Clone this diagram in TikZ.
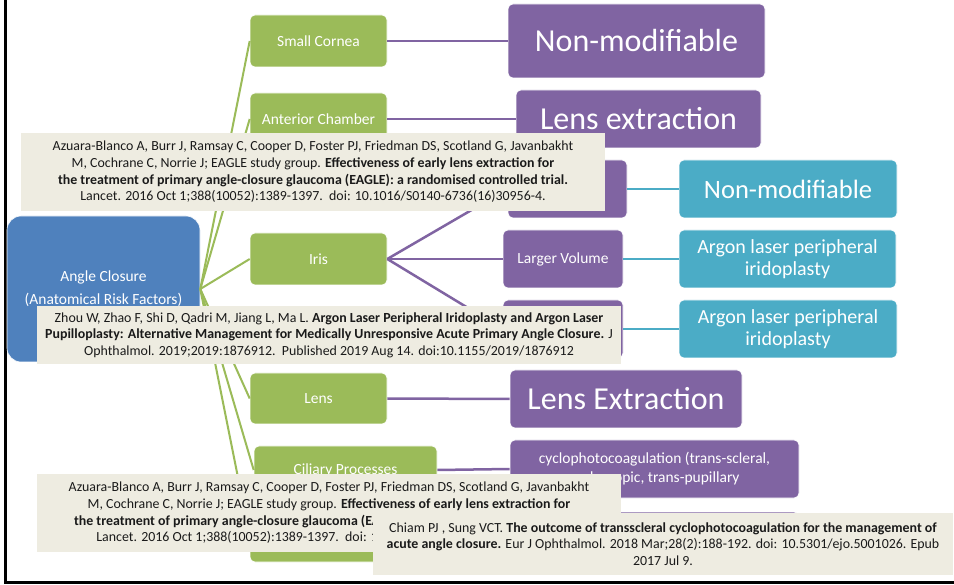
\documentclass[tikz,border=0pt]{standalone}
\usepackage{fontspec}
\setmainfont{Carlito}
\definecolor{blu}{HTML}{4F81BD}
\definecolor{grn}{HTML}{9BBB59}
\definecolor{pur}{HTML}{8064A2}
\definecolor{tea}{HTML}{4BACC6}
\definecolor{beig}{HTML}{EEECE1}
\definecolor{ctext}{HTML}{1A1A1A}
\begin{document}
\begin{tikzpicture}[x=1pt,y=-1pt,
  box/.style={rounded corners=5pt, draw=white, line width=0.6pt, align=center, text=white, inner sep=0pt},
  gbox/.style={box, fill=grn, font=\fontsize{15.5}{18}\selectfont},
  pbox/.style={box, fill=pur, font=\fontsize{15.5}{19}\selectfont},
  pbig/.style={box, fill=pur, font=\fontsize{32}{36}\selectfont},
  tbox/.style={box, fill=tea, font=\fontsize{20}{22}\selectfont},
  gline/.style={draw=grn, line width=2pt},
  pline/.style={draw=pur, line width=2.5pt},
  tline/.style={draw=tea, line width=2.5pt},
  cit/.style={fill=beig, inner sep=0pt, align=center, text=ctext, font=\fontsize{13.9}{16.6}\selectfont}
]
\useasboundingbox (0,0) rectangle (954,585);
\fill[white] (0,0) rectangle (954,585);
% frame
\draw[line width=3pt] (5.5,0) -- (5.5,582) -- (954,582);

% root
\node[box, fill=blu, rounded corners=14pt, minimum width=193, minimum height=146,
  font=\fontsize{15.5}{23}\selectfont] (ac) at (103.5,289) {Angle Closure\\(Anatomical Risk Factors)};

% green level
\node[gbox, minimum width=137, minimum height=52] (sc) at (318.5,41) {Small Cornea};
\node[gbox, minimum width=137, minimum height=52] (anc) at (318.5,119) {Anterior Chamber};
\node[gbox, minimum width=137, minimum height=52] (iris) at (318.5,259) {Iris};
\node[gbox, minimum width=137, minimum height=51] (lens) at (318.5,398.5) {Lens};
\node[gbox, minimum width=183, minimum height=48] (cil) at (345.5,470) {Ciliary Processes};
\node[gbox, minimum width=137, minimum height=52] (g6) at (318.5,536) {};

% purple level
\node[pbig, minimum width=257, minimum height=74] (nm1) at (636.5,41) {Non-modifiable};
\node[pbig, minimum width=245, minimum height=58] (le1) at (638.5,119) {Lens extraction};
\node[pbox, minimum width=119, minimum height=58] (p3) at (567.5,189) {};
\node[pbox, minimum width=120, minimum height=58] (lv) at (563,259) {Larger Volume};
\node[pbox, minimum width=120, minimum height=58] (p4) at (563,329) {};
\node[pbig, minimum width=232, minimum height=58] (le2) at (626,399) {Lens Extraction};
\node[pbox, minimum width=289, minimum height=58] (cyc) at (654.5,469) {cyclophotocoagulation (trans-scleral,\\endoscopic, trans-pupillary};
\node[pbox, minimum width=289, minimum height=58] (p6) at (654.5,541) {};

% teal level
\node[tbox, minimum width=218, minimum height=58, font=\fontsize{26.5}{30}\selectfont] (t1) at (788,189) {Non-modifiable};
\node[tbox, minimum width=217, minimum height=58] (t2) at (787.5,259) {Argon laser peripheral\\iridoplasty};
\node[tbox, minimum width=218, minimum height=58] (t3) at (788,329) {Argon laser peripheral\\iridoplasty};

% connectors
\foreach \t in {sc,anc,iris,lens,cil,g6} \draw[gline] (ac.east) -- (\t.west);
\draw[pline] (sc.east) -- (nm1.west);
\draw[pline] (anc.east) -- (le1.west);
\draw[pline] (iris.east) -- (p3.west);
\draw[pline] (iris.east) -- (lv.west);
\draw[pline] (iris.east) -- (p4.west);
\draw[pline] (lens.east) -- (le2.west);
\draw[pline] (cil.east) -- (cyc.west);
\draw[tline] (p3.east) -- (t1.west);
\draw[tline] (lv.east) -- (t2.west);
\draw[tline] (p4.east) -- (t3.west);

% citations
\node[cit, minimum width=584, minimum height=78] (c1) at (313,172) {Azuara-Blanco A, Burr J, Ramsay C, Cooper D, Foster PJ, Friedman DS, Scotland G, Javanbakht\\M, Cochrane C, Norrie J; EAGLE study group. \textbf{Effectiveness of early lens extraction for}\\\textbf{the treatment of primary angle-closure glaucoma (EAGLE): a randomised controlled trial.}\\Lancet. 2016 Oct 1;388(10052):1389-1397.\ \ doi: 10.1016/S0140-6736(16)30956-4.};
\node[cit, minimum width=584, minimum height=58] (c2) at (329,335) {Zhou W, Zhao F, Shi D, Qadri M, Jiang L, Ma L. \textbf{Argon Laser Peripheral Iridoplasty and Argon Laser}\\\textbf{Pupilloplasty: Alternative Management for Medically Unresponsive Acute Primary Angle Closure.} J\\Ophthalmol. 2019;2019:1876912.\ \ Published 2019 Aug 14. doi:10.1155/2019/1876912};
\node[cit, minimum width=584, minimum height=78] (c3) at (329,513) {Azuara-Blanco A, Burr J, Ramsay C, Cooper D, Foster PJ, Friedman DS, Scotland G, Javanbakht\\M, Cochrane C, Norrie J; EAGLE study group. \textbf{Effectiveness of early lens extraction for}\\\textbf{the treatment of primary angle-closure glaucoma (EAGLE): a randomised controlled trial.}\\Lancet. 2016 Oct 1;388(10052):1389-1397.\ \ doi: 10.1016/S0140-6736(16)30956-4.};
\node[cit, minimum width=580, minimum height=62] (c4) at (663,544) {Chiam PJ , Sung VCT. \textbf{The outcome of transscleral cyclophotocoagulation for the management of}\\\textbf{acute angle closure.} Eur J Ophthalmol. 2018 Mar;28(2):188-192. doi: 10.5301/ejo.5001026. Epub\\2017 Jul 9.};
\end{tikzpicture}
\end{document}
